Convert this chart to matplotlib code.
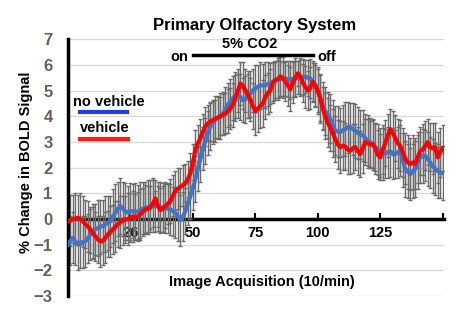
import matplotlib
matplotlib.use('Agg')
import matplotlib.pyplot as plt
import numpy as np

plt.rcParams['font.family'] = ['Liberation Sans', 'DejaVu Sans']

# image acquisition index
frames = list(range(151))

# vehicle (red)
vehicle = [-0.1, -0.05, 0.0, 0.02, 0.05, 0.0, -0.1, -0.2, -0.3, -0.42,
           -0.55, -0.68, -0.8, -0.87, -0.85, -0.72, -0.6, -0.5, -0.4, -0.3,
           -0.2, -0.12, -0.05, -0.02, 0.0, 0.05, 0.1, 0.08, 0.1, 0.18,
           0.3, 0.37, 0.4, 0.45, 0.6, 0.8, 0.5, 0.35, 0.4, 0.5,
           0.6, 0.7, 0.9, 1.1, 1.18, 1.25, 1.32, 1.4, 1.55, 1.8,
           2.2, 2.7, 2.95, 3.15, 3.4, 3.6, 3.72, 3.8, 3.85, 3.9,
           3.95, 4.0, 4.05, 4.1, 4.2, 4.3, 4.45, 4.7, 5.0, 5.27,
           5.2, 5.0, 4.85, 4.65, 4.4, 4.2, 4.3, 4.4, 4.5, 4.75,
           4.9, 5.0, 5.3, 5.4, 5.45, 5.55, 5.5, 5.35, 5.2, 5.05,
           5.3, 5.5, 5.67, 5.55, 5.3, 5.14, 5.0, 5.1, 5.34, 5.2,
           5.0, 4.7, 4.3, 4.0, 3.75, 3.55, 3.35, 3.1, 2.9, 2.8,
           2.85, 2.82, 2.7, 2.66, 2.75, 2.8, 2.65, 2.53, 2.75, 2.99,
           2.95, 2.9, 2.92, 2.75, 2.5, 2.4, 2.7, 2.95, 3.25, 3.5,
           3.35, 3.15, 2.95, 2.85, 2.6, 2.35, 2.2, 2.14, 2.2, 2.15,
           2.4, 2.65, 2.7, 2.85, 2.99, 2.8, 2.75, 2.8, 2.4, 2.6,
           2.75]

# no vehicle (blue)
no_vehicle = [-1.0, -0.85, -0.73, -0.9, -1.0, -0.95, -0.9, -0.87, -0.75, -0.6,
              -0.48, -0.4, -0.35, -0.3, -0.28, -0.2, -0.15, -0.09, 0.1, 0.25,
              0.4, 0.5, 0.4, 0.3, 0.25, 0.3, 0.3, 0.3, 0.28, 0.35,
              0.4, 0.44, 0.45, 0.5, 0.55, 0.5, 0.5, 0.45, 0.45, 0.44,
              0.4, 0.37, 0.3, 0.24, 0.1, -0.05, 0.1, 0.3, 0.6, 0.9,
              1.2, 1.55, 1.95, 2.35, 2.75, 3.05, 3.35, 3.6, 3.75, 3.88,
              3.95, 4.0, 4.1, 4.25, 4.45, 4.56, 4.7, 4.82, 4.8, 4.75,
              4.62, 4.65, 4.8, 4.88, 5.0, 5.08, 5.15, 5.2, 5.2, 5.21,
              5.25, 5.27, 5.35, 5.4, 5.45, 5.45, 5.45, 5.47, 5.45, 5.42,
              5.45, 5.47, 5.5, 5.5, 5.52, 5.54, 5.5, 5.47, 5.35, 5.21,
              5.0, 4.7, 4.42, 4.2, 4.05, 3.9, 3.65, 3.44, 3.4, 3.38,
              3.45, 3.5, 3.55, 3.58, 3.5, 3.44, 3.35, 3.3, 3.25, 3.15,
              3.05, 2.99, 2.9, 2.8, 2.7, 2.6, 2.53, 2.55, 2.6, 2.6,
              2.55, 2.53, 2.6, 2.66, 2.3, 1.94, 1.85, 1.75, 1.85, 1.94,
              2.2, 2.4, 2.45, 2.46, 2.35, 2.2, 2.05, 1.95, 1.87, 1.8,
              1.78]

# error bar half-widths
vehicle_err = [0.9, 1.0, 0.95, 1.0, 0.9, 1.0, 1.0, 0.95, 1.0, 0.9,
               1.0, 0.95, 0.9, 1.0, 0.95, 1.0, 0.9, 1.0, 0.95, 1.0,
               0.9, 1.0, 0.95, 0.9, 1.0, 0.95, 1.0, 0.9, 0.95, 1.0,
               0.9, 0.95, 0.9, 0.85, 0.9, 0.3, 0.8, 0.85, 0.9, 0.85,
               0.8, 0.85, 0.8, 0.75, 0.8, 0.75, 0.8, 0.75, 0.7, 0.75,
               0.7, 0.75, 0.7, 0.75, 0.7, 0.75, 0.7, 0.75, 0.8, 0.75,
               0.8, 0.75, 0.8, 0.8, 0.85, 0.8, 0.85, 0.9, 0.85, 0.85,
               0.9, 0.85, 0.9, 0.85, 0.9, 0.95, 0.9, 0.85, 0.9, 0.85,
               0.8, 0.85, 0.8, 0.75, 0.8, 0.75, 0.8, 0.75, 0.8, 0.85,
               0.8, 0.75, 0.5, 0.7, 0.75, 0.8, 0.75, 0.8, 0.75, 0.8,
               0.85, 0.9, 0.85, 0.9, 0.95, 0.9, 0.95, 0.9, 0.95, 1.0,
               0.95, 0.9, 0.95, 0.9, 0.95, 0.9, 0.95, 0.9, 0.95, 0.9,
               0.95, 0.9, 0.95, 1.0, 0.95, 0.9, 0.95, 0.9, 0.85, 0.8,
               0.85, 0.9, 0.95, 1.0, 0.95, 1.0, 1.05, 1.0, 1.05, 1.0,
               1.0, 0.95, 1.0, 0.95, 0.9, 0.95, 1.0, 0.95, 1.0, 0.95,
               0.9]

no_vehicle_err = [1.0, 0.95, 1.0, 0.9, 1.0, 0.95, 1.0, 1.0, 0.95, 1.0,
                  1.05, 1.0, 1.1, 1.05, 1.0, 1.1, 1.05, 1.0, 1.05, 1.1,
                  1.05, 1.1, 1.05, 1.1, 1.05, 1.1, 1.05, 1.1, 1.05, 1.1,
                  1.05, 1.0, 1.05, 1.0, 1.05, 1.0, 0.95, 1.0, 0.95, 1.0,
                  0.95, 1.0, 0.95, 1.0, 0.95, 1.0, 0.95, 0.9, 0.85, 0.9,
                  0.85, 0.9, 0.85, 0.9, 0.85, 0.9, 0.85, 0.9, 0.85, 0.9,
                  0.85, 0.9, 0.85, 0.9, 0.85, 0.9, 0.85, 0.9, 0.85, 0.9,
                  0.85, 0.9, 0.85, 0.9, 0.85, 0.9, 0.85, 0.9, 0.85, 0.9,
                  0.85, 0.8, 0.75, 0.7, 0.75, 0.7, 0.65, 0.7, 0.7, 0.75,
                  0.7, 0.7, 0.65, 0.7, 0.7, 0.65, 0.7, 0.75, 0.8, 0.85,
                  0.9, 0.95, 0.9, 0.95, 0.9, 0.95, 1.0, 0.95, 1.0, 0.95,
                  1.0, 1.05, 1.0, 0.95, 1.0, 1.05, 1.0, 0.95, 1.0, 0.95,
                  1.0, 0.95, 1.0, 0.95, 1.0, 0.95, 1.0, 0.95, 1.0, 0.95,
                  1.0, 0.95, 1.0, 1.0, 1.05, 1.1, 1.05, 1.0, 1.05, 1.1,
                  1.05, 1.0, 1.05, 1.0, 1.05, 1.0, 1.05, 1.0, 1.05, 1.0,
                  1.05]

xtick_pos = [25, 50, 75, 100, 125]
xtick_labels = ['26', '50', '75', '100', '125']
ytick_pos = list(range(-3, 8))

fig = plt.figure()
fig.set_size_inches(4.67, 3.13)
fig.set_dpi(100)
ax = fig.add_axes([0.1456, 0.0543, 0.805, 0.8205])

ax.errorbar(frames, no_vehicle, yerr=no_vehicle_err, fmt='none',
            ecolor='#6a6a6a', elinewidth=1.0, capsize=1.5, capthick=1.0, zorder=2)
ax.errorbar(frames, vehicle, yerr=vehicle_err, fmt='none',
            ecolor='#6a6a6a', elinewidth=1.0, capsize=1.5, capthick=1.0, zorder=2)
ax.plot(frames, no_vehicle, color='#4472c4', lw=3, zorder=3,
        solid_joinstyle='round')
ax.plot(frames, vehicle, color='#ff0000', lw=3, zorder=4,
        solid_joinstyle='round')

ax.set_xlim(0, 150.5)
ax.set_ylim(-3, 7)
ax.set_yticks(ytick_pos)
ax.yaxis.grid(True, color='#d9d9d9', lw=0.9)
ax.set_axisbelow(True)
ax.tick_params(axis='y', length=0, pad=11, labelsize=12, labelcolor='#6b5f50')
for t in ax.get_yticklabels():
    t.set_fontweight('bold')

ax.spines['top'].set_visible(False)
ax.spines['right'].set_visible(False)
ax.spines['left'].set_linewidth(2.5)
ax.spines['bottom'].set_position(('data', 0))
ax.spines['bottom'].set_linewidth(2.5)
ax.spines['bottom'].set_zorder(1)

ax.set_xticks(xtick_pos + [150])
ax.set_xticklabels(xtick_labels + [''], fontweight='bold', fontsize=10.5)
ax.tick_params(axis='x', direction='in', length=4, width=1.5, pad=5)

ax.set_ylabel('% Change in BOLD Signal', fontsize=10.5, fontweight='bold')
ax.yaxis.set_label_coords(-0.092, 0.52)
ax.text(0.516, 0.055, 'Image Acquisition (10/min)', transform=ax.transAxes,
        ha='center', va='center', fontsize=10.5, fontweight='bold')
fig.text(0.546, 0.917, 'Primary Olfactory System', ha='center', va='center',
         fontsize=12, fontweight='bold')

# CO2 stimulus bar
ax.plot([50, 98], [6.37, 6.37], color='black', lw=2.5, clip_on=False)
ax.text(72.8, 6.82, '5% CO2', ha='center', va='center', fontsize=10.5,
        fontweight='bold')
ax.text(48, 6.3, 'on', ha='right', va='center', fontsize=10.5,
        fontweight='bold')
ax.text(100, 6.3, 'off', ha='left', va='center', fontsize=10.5,
        fontweight='bold')

# hand-placed legend
fig.text(0.156, 0.675, 'no vehicle', ha='left', va='center', fontsize=10.5,
         fontweight='bold')
fig.add_artist(plt.Line2D([0.171, 0.272], [0.642, 0.642], color='#1f3fe0',
                          lw=3, transform=fig.transFigure))
fig.text(0.172, 0.59, 'vehicle', ha='left', va='center', fontsize=10.5,
         fontweight='bold')
fig.add_artist(plt.Line2D([0.171, 0.274], [0.556, 0.556], color='#ff1a1a',
                          lw=3, transform=fig.transFigure))

fig.savefig('out.png', dpi=100)
